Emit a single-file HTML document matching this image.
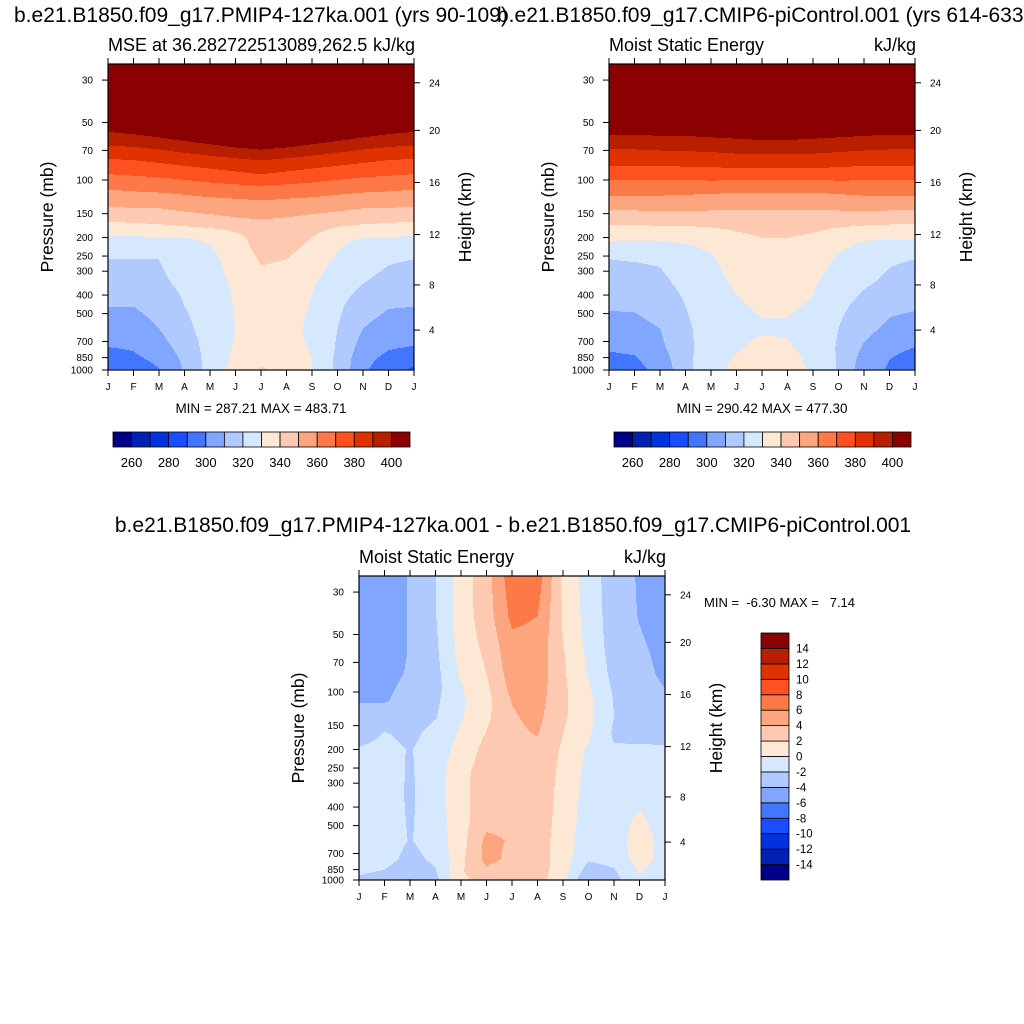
<!DOCTYPE html>
<html><head><meta charset="utf-8"><style>
html,body{margin:0;padding:0;background:#fff;overflow:hidden;}
svg{display:block;font-family:"Liberation Sans",sans-serif;}
</style></head><body>
<svg id="root" width="1024" height="1024" viewBox="0 0 1024 1024" xmlns="http://www.w3.org/2000/svg">
<rect width="1024" height="1024" fill="#fff"/>
<text x="14" y="22" font-size="21">b.e21.B1850.f09_g17.PMIP4-127ka.001 (yrs 90-109)</text>
<text x="497" y="22" font-size="21">b.e21.B1850.f09_g17.CMIP6-piControl.001 (yrs 614-633)</text>
<text x="513" y="532" font-size="21" text-anchor="middle">b.e21.B1850.f09_g17.PMIP4-127ka.001 - b.e21.B1850.f09_g17.CMIP6-piControl.001</text>
<g id="panels"></g>
</svg>
<script>
const months = ["J","F","M","A","M","J","J","A","S","O","N","D","J"];
const levels = [25,40,55,65,80,95,110,135,165,200,260,350,460,600,750,870,970];
const pressureTicks = [30,50,70,100,150,200,250,300,400,500,700,850,1000];
const heightTicks = [24,20,16,12,8,4];
const heightTickPressures = [31,55,103,193,354,610];
const mseColorbarLabels = [260,280,300,320,340,360,380,400];
const diffColorbarLabels = [14,12,10,8,6,4,2,0,-2,-4,-6,-8,-10,-12,-14];
const palette = ["#00008a","#0022b4","#0033e0","#1a4dff","#4276ff","#80a6ff","#b0caff","#d6e8fd","#fde8d6","#fdc9b0","#fca57f","#fd7a48","#ff5020","#e03100","#b81f00","#8b0000"];

const mse127ka = [
[470,430,401,391,378,369,361,351,340,329,320,315,310,305,300,295,290],
[471,431,403,392,379,370,362,352,341,329,320,315,310,306,301,298,295],
[472,432,406,394,381,371,363,352,342,329.5,320,318,313,310,306,302,300],
[474,434,410,397,383,373,364,354,344,330,325,322,320,317,314,312,311],
[476,436,413,400,385,375,366,355,346,331,328,327,326,325,324,324,324],
[478,438,417,403,387,377,367,356,348,336,333,331,330.5,330,331,332,334],
[480,440,420,405,389,379,368,357,349,346,341,337,336,336,336,338,340.5],
[478,438,417,403,387,377,367,356,348,346,340,336,335,333,334,336,338],
[476,436,413,400,385,375,366,355,346,340,334,331,329,328,329,330,330],
[474,434,410,397,383,373,364,354,344,332,329,325,322,320,319,318,318],
[472,432,406,394,381,371,363,352,342,330,324,320,314,310,306,303,302],
[471,431,403,392,379,370,362,352,341,329.5,321,317,310.5,306,301,297,294],
[470,430,401,391,378,369,361,351,340,329,320,315,310,305,299.5,293,289]];

const msePiControl = [
[465,425,403,393,383,373,365,354,342,332,320,316,311,306,301,298,296],
[465,425,403,393,383,373,365,354,342,332,320.5,316,311,307,302,299,297],
[466,426,404,394,383,373,365,354,343,332,321,318,314,310,308,305,303],
[467,427,404,394,384,373,364,354,343,332,325,322,320,318,317,317,317],
[468,428,405,395,384,374,364,353,344,333,329,327,326,325,326,327,327],
[469,429,406,396,385,374,363,352,345,337,334,331,329,328,329,331,332],
[470,430,407,397,385,374,363,352,346,340,336,334,331,329,332,333,334],
[470,430,407,397,385,374,363,352,346,340,336,334,331,329,331,333,333],
[469,429,406,396,385,374,363,352,345,338,334,331,329,327,327,328,329],
[468,428,405,395,384,374,364,353,344,333,329,325,322,320,319,319,319],
[466,426,404,394,383,373,365,354,343,331,325,321,317,313,309,306,305],
[465,425,403,393,383,373,365,354,342,331,321,318,312,308,302,300,299],
[465,425,403,393,383,373,365,354,342,331,320,316,311,306,300,297,295]];

const mseDiff = [
[-4.8,-4.8,-4.7,-4.6,-4.5,-4.3,-4.1,-3.5,-2.8,-1.8,-1.5,-1.3,-1.2,-1.2,-1.4,-1.8,-2.3],
[-4.8,-4.8,-4.8,-4.7,-4.6,-4.4,-4.2,-3.0,-1.9,-1.5,-1.2,-1.0,-1.0,-1.0,-1.3,-2.1,-2.5],
[-3.9,-3.9,-3.9,-3.9,-3.8,-3.5,-3.2,-2.8,-2.4,-2.1,-2.2,-2.3,-2.2,-2.1,-2.6,-3.4,-4.2],
[-2.0,-2.1,-2.3,-2.4,-2.6,-2.6,-2.4,-2.1,-1.5,-1.2,-1.0,-0.9,-1.0,-1.2,-1.6,-2.2,-2.6],
[1.0,1.0,0.8,0.6,0.3,-0.2,-0.3,-0.2,0.3,0.8,1.5,1.5,1.3,1.2,1.5,1.8,1.5],
[3.2,3.0,2.6,2.3,2.0,1.6,1.4,1.6,2.1,2.6,2.8,3.0,3.2,4.5,4.6,3.5,2.5],
[7.2,6.5,5.5,5.3,5.0,4.6,4.1,3.8,3.6,3.4,3.3,3.3,3.5,3.8,3.5,3.0,2.5],
[7.0,6.0,5.4,5.3,5.2,5.0,4.8,4.5,4.1,3.6,3.3,3.2,3.1,3.0,3.0,3.0,2.8],
[1.6,1.8,2.0,2.2,2.3,2.4,2.4,2.3,2.0,1.7,1.5,1.3,1.2,1.0,1.0,0.8,0.5],
[-1.0,-0.8,-0.6,-0.4,-0.2,0.2,0.5,0.6,0.3,-0.3,-0.6,-0.8,-1.0,-1.2,-1.8,-3.0,-4.2],
[-3.0,-3.0,-2.9,-2.8,-2.6,-2.3,-2.1,-2.0,-2.3,-1.8,-1.2,-1.0,-0.8,-0.8,-1.3,-2.3,-2.6],
[-4.2,-4.1,-3.8,-3.6,-3.5,-3.4,-3.3,-3.0,-2.7,-1.6,-1.0,-0.5,0.3,0.8,0.9,0.2,-0.5],
[-5.0,-4.8,-4.6,-4.5,-4.3,-4.0,-3.8,-3.4,-2.6,-1.8,-1.3,-1.0,-0.8,-0.6,-0.8,-1.1,-1.4]];

const NS = "http://www.w3.org/2000/svg";
function el(tag, attrs, parent){const e=document.createElementNS(NS,tag);for(const k in attrs)e.setAttribute(k,attrs[k]);if(parent)parent.appendChild(e);return e;}
const root = document.getElementById('panels');

function yOfP(p){return 116 + 83*Math.log(p/100);}
function mseIndex(v){return Math.max(0,Math.min(15,Math.floor((v-260)/10)+1));}
function diffIndex(v){return Math.max(0,Math.min(15,Math.floor(v/2)+8));}

function drawPanel(px,py,W,H,data,idxFn,name,subLeft){
  const g = el('g',{},root);
  
  
  const lnL = levels.map(p=>Math.log(p));
  for(let y=0;y<H;y++){
    const p = 100*Math.exp((y+0.5-116)/83);
    if(p>levels[levels.length-1]) continue;
    const lp = Math.log(Math.max(p,levels[0]));
    let k=0; while(k<levels.length-2 && lnL[k+1]<lp) k++;
    const t = Math.min(1,Math.max(0,(lp-lnL[k])/(lnL[k+1]-lnL[k])));
    const col = data.map(c=>c[k]+(c[k+1]-c[k])*t);
    let runStart=0, runIdx=-1;
    for(let x=0;x<=W;x++){
      let idx=-2;
      if(x<W){
        const m=(x+0.5)/W*12; const i=Math.min(11,Math.floor(m)); const f=m-i;
        idx = idxFn(col[i]+(col[i+1]-col[i])*f);
      }
      if(idx!==runIdx){
        if(runIdx>=0){
          const r = el('rect',{x:px+runStart,y:py+y,width:x-runStart+0.3,height:1.3,fill:palette[runIdx]},g);
          
          
        }
        runStart=x; runIdx=idx;
      }
    }
  }
  const fr = el('rect',{x:px,y:py,width:W,height:H,fill:'none',stroke:'#000','stroke-width':1.2},g);
  
  
  months.forEach((mo,i)=>{
    const x = px + i*W/12;
    el('line',{x1:x,y1:py+H,x2:x,y2:py+H+6,stroke:'#000'},g);
    el('line',{x1:x,y1:py,x2:x,y2:py-6,stroke:'#000'},g);
    const t = el('text',{x:x,y:py+H+20,'font-size':10,'text-anchor':'middle'},g);
    t.textContent = mo;
    
    
  });
  pressureTicks.forEach(p=>{
    const y = py + Math.min(H,yOfP(p));
    el('line',{x1:px,y1:y,x2:px-6,y2:y,stroke:'#000'},g);
    const t = el('text',{x:px-15,y:y+3.5,'font-size':10,'text-anchor':'end'},g);
    t.textContent = p;
    
    
  });
  heightTicks.forEach((h,i)=>{
    const y = py + yOfP(heightTickPressures[i]);
    el('line',{x1:px+W,y1:y,x2:px+W+6,y2:y,stroke:'#000'},g);
    const t = el('text',{x:px+W+15,y:y+3.5,'font-size':10},g);
    t.textContent = h;
    
    
  });
  const yt = el('text',{x:0,y:0,'font-size':17.5,'text-anchor':'middle',transform:`translate(${px-55},${py+H/2}) rotate(-90)`},g);
  yt.textContent='Pressure (mb)';
  
  
  const ht = el('text',{x:0,y:0,'font-size':17.5,'text-anchor':'middle',transform:`translate(${px+W+57},${py+H/2}) rotate(-90)`},g);
  ht.textContent='Height (km)';
  
  
  const sl = el('text',{x:px,y:py-13,'font-size':18},g);
  sl.textContent=subLeft;
  
  
  const sr = el('text',{x:px+W+1,y:py-13,'font-size':18,'text-anchor':'end'},g);
  sr.textContent='kJ/kg';
  
  
  return g;
}

function hColorbar(x0,y0,w,h,name){
  const g = el('g',{},root);
  
  
  const bw = w/16;
  palette.forEach((c,i)=>{
    const r=el('rect',{x:x0+i*bw,y:y0,width:bw,height:h,fill:c,stroke:'#000','stroke-width':0.8},g);
    
    
  });
  mseColorbarLabels.forEach(v=>{
    const x = x0 + ((v-260)/10+1)*bw;
    const t = el('text',{x:x,y:y0+h+20,'font-size':13,'text-anchor':'middle'},g);
    t.textContent=v;
    
    
  });
}
function vColorbar(x0,y0,w,h,name){
  const g = el('g',{},root);
  
  
  const bh = h/16;
  palette.forEach((c,i)=>{
    const r=el('rect',{x:x0,y:y0+h-(i+1)*bh,width:w,height:bh,fill:c,stroke:'#000','stroke-width':0.8},g);
    
    
  });
  diffColorbarLabels.forEach(v=>{
    const y = y0 + h - (v/2+8)*bh;
    const t = el('text',{x:x0+w+7,y:y+4,'font-size':11.5},g);
    t.textContent=v;
    
    
  });
}

drawPanel(108,64,306,306,mse127ka,mseIndex,'pmip4-127ka-panel','MSE at 36.282722513089,262.5');
drawPanel(609,64,306,306,msePiControl,mseIndex,'cmip6-picontrol-panel','Moist Static Energy');
drawPanel(359,576,306,304,mseDiff,diffIndex,'difference-panel','Moist Static Energy');
hColorbar(113,432,297,15,'left-colorbar');
hColorbar(614,432,297,15,'right-colorbar');
vColorbar(761,633,28,247,'difference-colorbar');

function txt(x,y,s,size,anchor,name){
  const t=el('text',{x:x,y:y,'font-size':size,'text-anchor':anchor},root);
  t.textContent=s;
  
  
  t.setAttribute('xml:space','preserve');
  t.style.whiteSpace='pre';
}
txt(261,413,'MIN = 287.21 MAX = 483.71',13.5,'middle','left-min-max');
txt(762,413,'MIN = 290.42 MAX = 477.30',13.5,'middle','right-min-max');
txt(704,607,'MIN =  -6.30 MAX =   7.14',13,'start','diff-min-max');
</script>
</body></html>
